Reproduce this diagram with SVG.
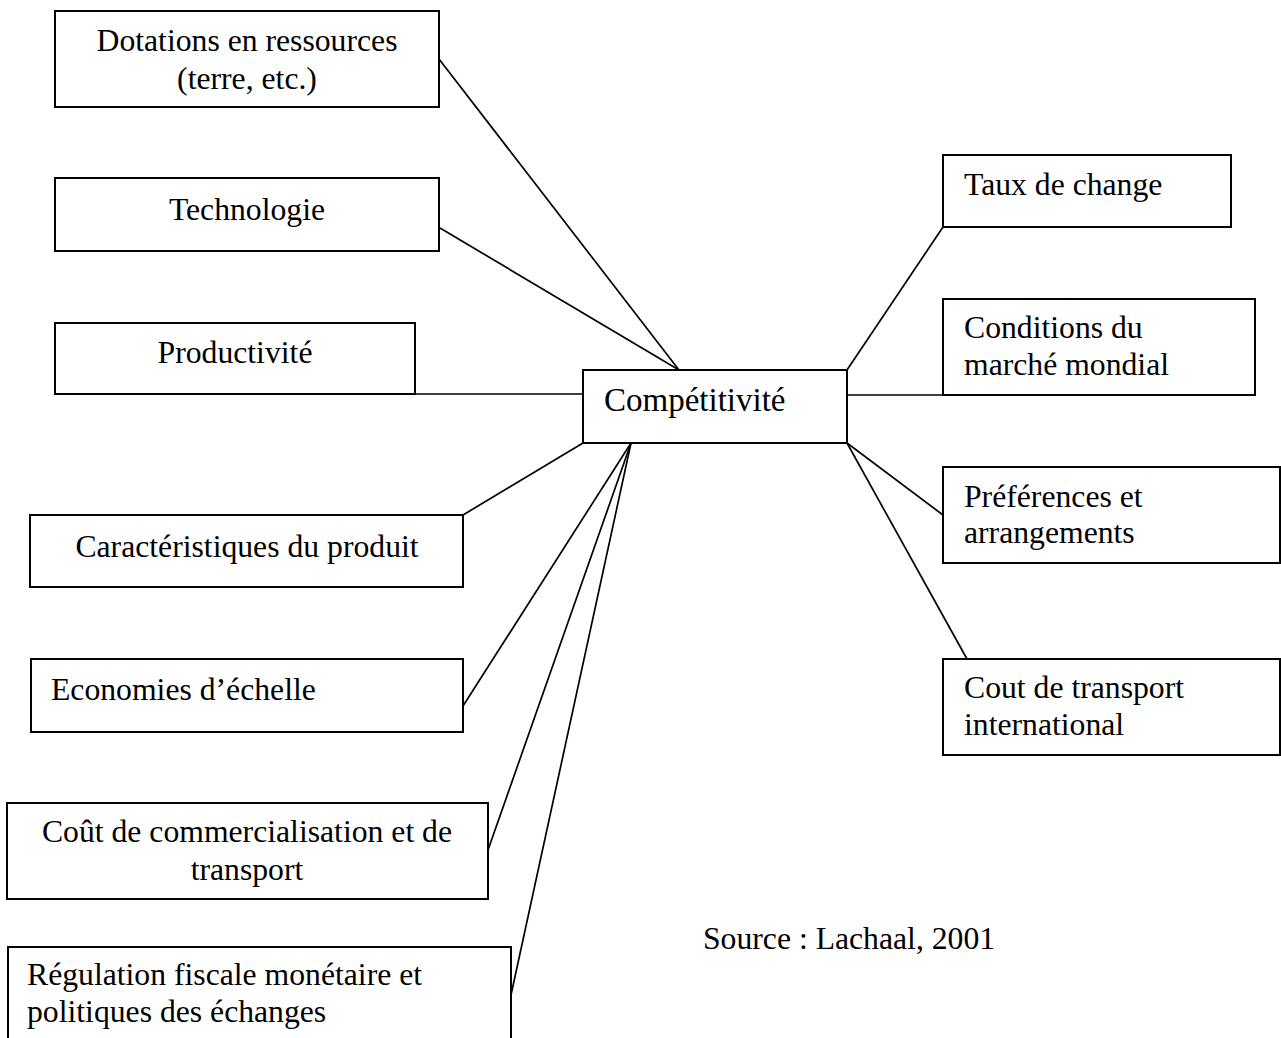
<svg xmlns="http://www.w3.org/2000/svg" width="1281" height="1038" viewBox="0 0 1281 1038">
<style>
.box{fill:#fff;stroke:#000;stroke-width:2}
.t{font-family:"Liberation Serif","Times New Roman",serif;font-size:31.7px;fill:#000}
.c{text-anchor:middle}
.ln{stroke:#000;stroke-width:1.7;fill:none}
</style>
<rect width="1281" height="1038" fill="#fff"/>
<g id="connectors">
<line class="ln" x1="439" y1="59" x2="679" y2="370"/>
<line class="ln" x1="440" y1="228" x2="679" y2="370"/>
<line class="ln" x1="415" y1="394" x2="583" y2="394"/>
<line class="ln" x1="463" y1="515" x2="583" y2="443"/>
<line class="ln" x1="463" y1="706" x2="631" y2="443"/>
<line class="ln" x1="488" y1="850" x2="631" y2="443"/>
<line class="ln" x1="511" y1="995" x2="631" y2="443"/>
<line class="ln" x1="847" y1="370" x2="943" y2="227"/>
<line class="ln" x1="847" y1="395" x2="943" y2="395"/>
<line class="ln" x1="847" y1="443" x2="943" y2="515"/>
<line class="ln" x1="847" y1="443" x2="967" y2="659"/>
</g>
<g id="n-dotations"><rect class="box" x="55" y="11" width="384" height="96"/><text class="t c" x="247" y="51">Dotations en ressources</text><text class="t c" x="247" y="89">(terre, etc.)</text></g>
<g id="n-technologie"><rect class="box" x="55" y="178" width="384" height="73"/><text class="t c" x="247" y="220">Technologie</text></g>
<g id="n-productivite"><rect class="box" x="55" y="323" width="360" height="71"/><text class="t c" x="235" y="363">Productivité</text></g>
<g id="n-caracteristiques"><rect class="box" x="30" y="515" width="433" height="72"/><text class="t c" x="247" y="557">Caractéristiques du produit</text></g>
<g id="n-economies"><rect class="box" x="31" y="659" width="432" height="73"/><text class="t" x="51" y="700">Economies d’échelle</text></g>
<g id="n-cout-commercialisation"><rect class="box" x="7" y="803" width="481" height="96"/><text class="t c" x="247" y="842">Coût de commercialisation et de</text><text class="t c" x="247" y="880">transport</text></g>
<g id="n-regulation"><rect class="box" x="8" y="947" width="503" height="100"/><text class="t" x="27" y="985">Régulation fiscale monétaire et</text><text class="t" x="27" y="1022">politiques des échanges</text></g>
<g id="n-competitivite"><rect class="box" x="583" y="370" width="264" height="73"/><text class="t" x="604" y="411" style="font-size:33px">Compétitivité</text></g>
<g id="n-taux"><rect class="box" x="943" y="155" width="288" height="72"/><text class="t" x="964" y="195">Taux de change</text></g>
<g id="n-conditions"><rect class="box" x="943" y="299" width="312" height="96"/><text class="t" x="964" y="338">Conditions du</text><text class="t" x="964" y="375">marché mondial</text></g>
<g id="n-preferences"><rect class="box" x="943" y="467" width="337" height="96"/><text class="t" x="964" y="507">Préférences et</text><text class="t" x="964" y="543">arrangements</text></g>
<g id="n-cout-transport"><rect class="box" x="943" y="659" width="337" height="96"/><text class="t" x="964" y="698">Cout de transport</text><text class="t" x="964" y="735">international</text></g>
<text class="t" x="703" y="949">Source : Lachaal, 2001</text>
</svg>
